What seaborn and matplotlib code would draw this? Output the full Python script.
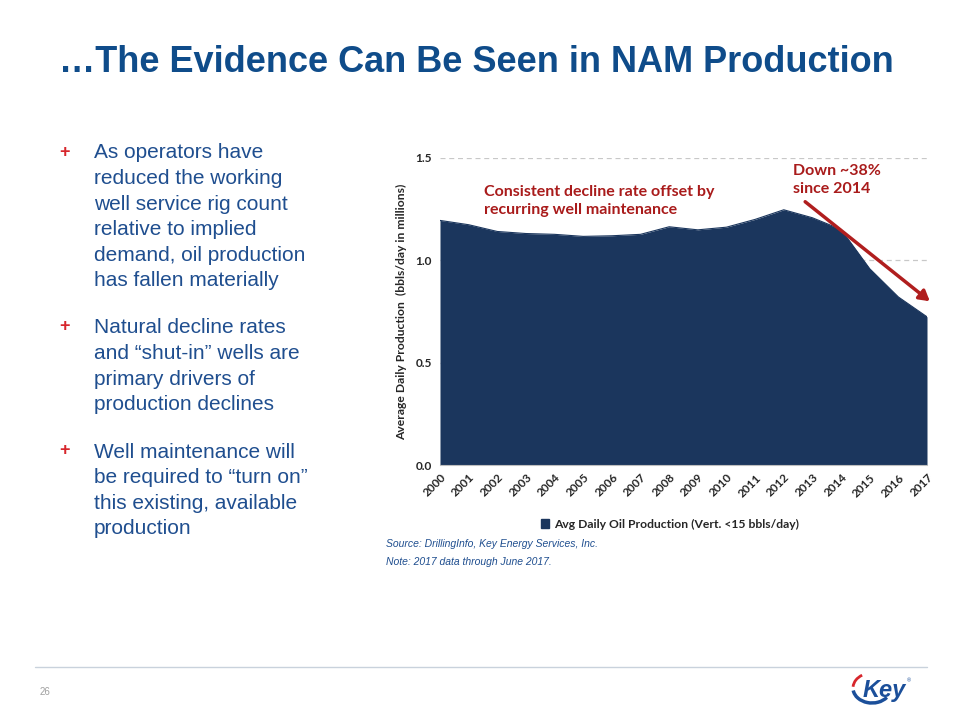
import matplotlib
matplotlib.use("Agg")
import matplotlib.pyplot as plt
import seaborn as sns
import pandas as pd
from matplotlib.patches import Patch, Arc

# ---- data ----
years = [2000, 2001, 2002, 2003, 2004, 2005, 2006, 2007, 2008,
         2009, 2010, 2011, 2012, 2013, 2014, 2015, 2016, 2017]
production = [1.195, 1.174, 1.141, 1.131, 1.127, 1.117, 1.120, 1.127, 1.164,
              1.149, 1.162, 1.200, 1.247, 1.208, 1.151, 0.959, 0.821, 0.724]
y_ticks = [0.0, 0.5, 1.0, 1.5]
series_name = "Avg Daily Oil Production (Vert. <15 bbls/day)"
title = "\u2026The Evidence Can Be Seen in NAM Production"
bullets = [
    ["As operators have", "reduced the working", "well service rig count",
     "relative to implied", "demand, oil production", "has fallen materially"],
    ["Natural decline rates", "and \u201cshut-in\u201d wells are",
     "primary drivers of", "production declines"],
    ["Well maintenance will", "be required to \u201cturn on\u201d",
     "this existing, available", "production"],
]
note1 = "Consistent decline rate offset by\nrecurring well maintenance"
note2 = "Down ~38%\nsince 2014"
sources = ["Source: DrillingInfo, Key Energy Services, Inc.",
           "Note: 2017 data through June 2017."]

df = pd.DataFrame({"year": years, "prod": production})

sns.set_style("white")
plt.rcParams["font.family"] = ["Liberation Sans", "DejaVu Sans"]

W, H = 960, 720
fig = plt.figure(figsize=(9.6, 7.2), dpi=100)

def fx(px):
    return px / W

def fy(py):
    return 1 - py / H

NAVY = "#1B365D"
TITLE_BLUE = "#0F4C8A"
TEXT_BLUE = "#1F4E8F"
RED = "#A91B1B"
CHART_FONT = ["Lato", "DejaVu Sans"]

# title
fig.text(fx(59), fy(62), title, fontsize=26, fontweight="bold",
         color=TITLE_BLUE, va="center", ha="left")

# bullets
starts = [153, 328, 452]
for lines, y0 in zip(bullets, starts):
    fig.text(fx(64), fy(y0 - 1), "+", color="#D7262C", fontsize=13,
             fontweight="bold", va="center", ha="center")
    for i, ln in enumerate(lines):
        fig.text(fx(94), fy(y0 + i * 25.6), ln, fontsize=15, color=TEXT_BLUE,
                 va="center", ha="left")

# chart
ax = fig.add_axes([fx(440), fy(465), fx(927) - fx(440), fy(158) - fy(465)])
ax.fill_between(df["year"], 0, df["prod"], color=NAVY, lw=0, zorder=2)
sns.lineplot(data=df, x="year", y="prod", ax=ax, color=NAVY, lw=0.8, zorder=3)
ax.set_xlim(2000, 2017)
ax.set_ylim(0, 1.5)
ax.set_yticks(y_ticks)
ax.set_yticklabels([f"{v:.1f}" for v in y_ticks], fontweight="bold",
                   fontsize=8.5, family=CHART_FONT)
ax.set_xticks(years)
ax.set_xticklabels([str(y) for y in years], rotation=45, ha="right",
                   rotation_mode="anchor", fontweight="bold", fontsize=8.5,
                   family=CHART_FONT)
for v in y_ticks[1:]:
    ax.axhline(v, color="#C8C8C8", lw=0.9, ls=(0, (4, 3)), zorder=1)
for s in ["top", "right", "left"]:
    ax.spines[s].set_visible(False)
ax.spines["bottom"].set_color("#BFBFBF")
ax.tick_params(axis="x", length=3, color="#BFBFBF", pad=2)
ax.tick_params(axis="y", length=0, pad=6)
ax.set_xlabel("")
ax.set_ylabel("Average Daily Production  (bbls/day in millions)",
              fontweight="bold", fontsize=8.7, family=CHART_FONT, labelpad=6)

# legend
fig.legend(handles=[Patch(facecolor=NAVY, edgecolor=NAVY)], labels=[series_name],
           loc="center", bbox_to_anchor=(fx(670), fy(524)), frameon=False,
           handlelength=0.7, handleheight=0.7, handletextpad=0.4,
           prop={"family": CHART_FONT, "weight": "bold", "size": 8.7})

# annotations
fig.text(fx(484), fy(201), note1, fontsize=11.5, fontweight="bold", color=RED,
         family=CHART_FONT, va="center", ha="left", linespacing=1.35)
fig.text(fx(793), fy(180), note2, fontsize=11.5, fontweight="bold", color=RED,
         family=CHART_FONT, va="center", ha="left", linespacing=1.35)
fig.add_artist(matplotlib.patches.FancyArrowPatch(
    (fx(803), fy(200)), (fx(932), fy(303)), transform=fig.transFigure,
    arrowstyle="-|>,head_length=6,head_width=3.5", color="#B01E1E", lw=2.5))

# sources
for i, s in enumerate(sources):
    fig.text(fx(386), fy(544 + i * 18), s, fontsize=7.5, style="italic",
             color=TEXT_BLUE, va="center", ha="left")

# footer
fig.add_artist(plt.Line2D([fx(35), fx(927)], [fy(667), fy(667)],
                          color="#C9D2DC", lw=1, transform=fig.transFigure))
fig.text(fx(40), fy(692), "26", fontsize=7, color="#A0A0A0", va="center")
fig.text(fx(884), fy(690), "Key", fontsize=17, fontweight="bold", style="italic",
         color="#1B4F9A", va="center", ha="center")
fig.add_artist(Arc((fx(872), fy(688)), fx(38), fy(0) - fy(30), theta1=190,
                   theta2=320, color="#1B4F9A", lw=2.5,
                   transform=fig.transFigure))
fig.add_artist(Arc((fx(872), fy(688)), fx(38), fy(0) - fy(30), theta1=120,
                   theta2=175, color="#D7262C", lw=2,
                   transform=fig.transFigure))
fig.text(fx(907), fy(681), "\u00ae", fontsize=4, color="#1B4F9A", va="center")

fig.savefig("out.png", dpi=100)
